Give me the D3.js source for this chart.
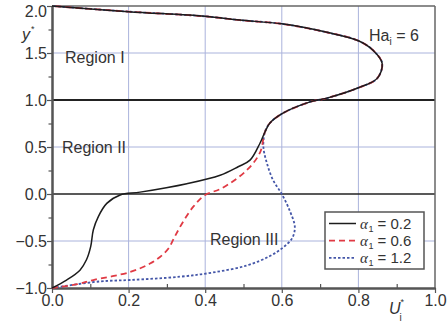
<!DOCTYPE html>
<html><head><meta charset="utf-8">
<script src="https://cdn.jsdelivr.net/npm/d3@7"></script>
<style>body{margin:0;background:#fff}svg text{font-family:"Liberation Sans",Arial,sans-serif;fill:#333}</style>
</head><body><svg id="c" width="448" height="324"></svg>
<script>
const xTicks = [0, 0.2, 0.4, 0.6, 0.8, 1.0];
const yTicks = [-1, -0.5, 0, 0.5, 1, 1.5, 2];
// shared upper branch (all three curves coincide)
const sharedU = [0.556, 0.569, 0.603, 0.674, 0.718, 0.8, 0.849, 0.862, 0.838, 0.8, 0.718, 0.6, 0.49, 0.4, 0.2, 0.0];
const sharedY = [0.66, 0.755, 0.86, 0.98, 1.02, 1.13, 1.23, 1.39, 1.53, 1.63, 1.72, 1.81, 1.85, 1.89, 1.94, 2.0];
// alpha1 = 0.2
const a02U = [0, 0.038, 0.073, 0.09, 0.101, 0.108, 0.121, 0.143, 0.178, 0.23, 0.352, 0.439, 0.486, 0.517, 0.543];
const a02Y = [-1, -0.915, -0.81, -0.70, -0.56, -0.38, -0.24, -0.1, -0.01, 0.02, 0.11, 0.2, 0.29, 0.36, 0.54];
// alpha1 = 0.6
const a06U = [0, 0.065, 0.108, 0.204, 0.256, 0.282, 0.304, 0.321, 0.343, 0.369, 0.4, 0.443, 0.509, 0.543];
const a06Y = [-1, -0.96, -0.915, -0.83, -0.74, -0.67, -0.58, -0.45, -0.29, -0.135, -0.01, 0.06, 0.255, 0.44];
// alpha1 = 1.2
const a12U = [0, 0.125, 0.204, 0.334, 0.42, 0.509, 0.569, 0.603, 0.627, 0.634, 0.621, 0.6, 0.577, 0.561, 0.552];
const a12Y = [-1, -0.93, -0.915, -0.88, -0.835, -0.76, -0.66, -0.57, -0.47, -0.35, -0.18, 0, 0.15, 0.33, 0.5];
const legendLabels = ["0.2", "0.6", "1.2"];

const svg = d3.select("#c");
const L = 52, R = 435, T = 6, B = 288;
const x = d3.scaleLinear().domain([0, 1]).range([L, R]);
const y = d3.scaleLinear().domain([-1, 2]).range([B, T]);
const FF = '"Liberation Sans",Arial,sans-serif';
const NB = "\u00a0";

// grid
const g = svg.append("g");
g.selectAll(".gx").data([0.2, 0.4, 0.6, 0.8]).enter().append("line")
  .attr("x1", d => x(d)).attr("x2", d => x(d)).attr("y1", T).attr("y2", B)
  .attr("stroke", "#aab3dc").attr("stroke-width", 1);
g.selectAll(".gy").data([-0.5, 0.5, 1.5]).enter().append("line")
  .attr("y1", d => y(d)).attr("y2", d => y(d)).attr("x1", L).attr("x2", R)
  .attr("stroke", "#aab3dc").attr("stroke-width", 1);
// region boundaries
g.selectAll(".hb").data([1, 0]).enter().append("line")
  .attr("y1", d => y(d)).attr("y2", d => y(d)).attr("x1", L).attr("x2", R)
  .attr("stroke", "#222").attr("stroke-width", (d, i) => i === 0 ? 2 : 1.6);

// border
svg.append("line").attr("x1", L).attr("x2", R).attr("y1", T).attr("y2", T).attr("stroke", "#666").attr("stroke-width", 1.5);
svg.append("line").attr("x1", R).attr("x2", R).attr("y1", T).attr("y2", B).attr("stroke", "#666").attr("stroke-width", 1.5);

// axes
const xAxis = svg.append("g").attr("transform", `translate(0,${B})`)
  .call(d3.axisBottom(x).tickValues(xTicks).tickFormat(d3.format(".1f")).tickSize(5).tickSizeOuter(0));
const xMinor = svg.append("g").attr("transform", `translate(0,${B})`)
  .call(d3.axisBottom(x).tickValues([0.1, 0.3, 0.5, 0.7, 0.9]).tickFormat("").tickSize(-4).tickSizeOuter(0));
const yAxis = svg.append("g").attr("transform", `translate(${L},0)`)
  .call(d3.axisLeft(y).tickValues(yTicks).tickFormat(d => d3.format(".1f")(d).replace("-", "\u2212")).tickSize(5).tickSizeOuter(0));
const yMinor = svg.append("g").attr("transform", `translate(${L},0)`)
  .call(d3.axisLeft(y).tickValues([-0.75, -0.25, 0.25, 0.75, 1.25, 1.75]).tickFormat("").tickSize(3.5).tickSizeOuter(0));
[xAxis, xMinor, yAxis, yMinor].forEach(a => {
  a.select(".domain").attr("stroke", "#555").attr("stroke-width", 2);
  a.selectAll(".tick line").attr("stroke", "#555").attr("stroke-width", 1.2);
  a.selectAll(".tick text").attr("font-size", 16).attr("fill", "#333").style("font-family", FF);
});
xAxis.selectAll(".tick text").attr("dy", "0.95em").attr("y", 3);
yAxis.selectAll(".tick text").attr("x", -5).attr("y", d => d === 2 ? 5 : 0);

// curves
const line = d3.line().x(d => x(d[0])).y(d => y(d[1])).curve(d3.curveCatmullRom.alpha(0.5));
const shared = sharedU.map((u, i) => [u, sharedY[i]]);
function build(U, Y) { return U.map((u, i) => [u, Y[i]]).concat(shared); }
const series = [
  {pts: build(a02U, a02Y), color: "#1c1c1c", dash: null, w: 1.5},
  {pts: build(a06U, a06Y), color: "#e03a44", dash: "6,4", w: 1.8},
  {pts: build(a12U, a12Y), color: "#4456a8", dash: "2.5,2", w: 1.8}
];
series.slice().reverse().forEach(s => {
  svg.append("path").attr("d", line(s.pts)).attr("fill", "none")
    .attr("stroke", s.color).attr("stroke-width", s.w)
    .attr("stroke-dasharray", s.dash);
});

// text helpers: each piece is its own text element, laid out left to right
function txt(xp, yp, str, size, opts) {
  const t = svg.append("text").attr("x", xp).attr("y", yp).attr("font-size", size || 16).text(str);
  if (opts && opts.italic) t.attr("font-style", "italic");
  if (opts && opts.family) t.style("font-family", opts.family);
  return t;
}
function w(t) { return t.node().getComputedTextLength(); }

txt(65, 63, "Region I");
txt(62, 153, "Region II");
txt(210, 245, "Region III");

let h1 = txt(369, 41, "Ha", 16);
let h2 = txt(369 + w(h1), 45, "i", 10);
txt(369 + w(h1) + w(h2), 41, NB + "=" + NB + "6", 16);

let y1 = txt(22, 40, "y", 16, {italic: true});
txt(22 + w(y1) + 1, 32, "*", 9);

let u1 = txt(389, 314, "U", 16, {italic: true});
txt(389 + w(u1), 305, "*", 9);
txt(389 + w(u1) - 1, 321, "i", 10);

// legend
svg.append("rect").attr("x", 325).attr("y", 212).attr("width", 99).attr("height", 57)
  .attr("fill", "#fff").attr("stroke", "#555").attr("stroke-width", 1.5);
series.forEach((s, i) => {
  const yy = 223.5 + i * 17.2;
  svg.append("line").attr("x1", 329).attr("x2", 356).attr("y1", yy).attr("y2", yy)
    .attr("stroke", s.color).attr("stroke-width", s.w).attr("stroke-dasharray", s.dash);
  const a = txt(360, yy + 5, "\u03b1", 15, {italic: true, family: '"Liberation Serif",serif'});
  const one = txt(360.5 + w(a), yy + 8, "1", 9);
  txt(360.5 + w(a) + w(one), yy + 5, NB + "=" + NB + legendLabels[i], 15);
});
</script></body></html>
